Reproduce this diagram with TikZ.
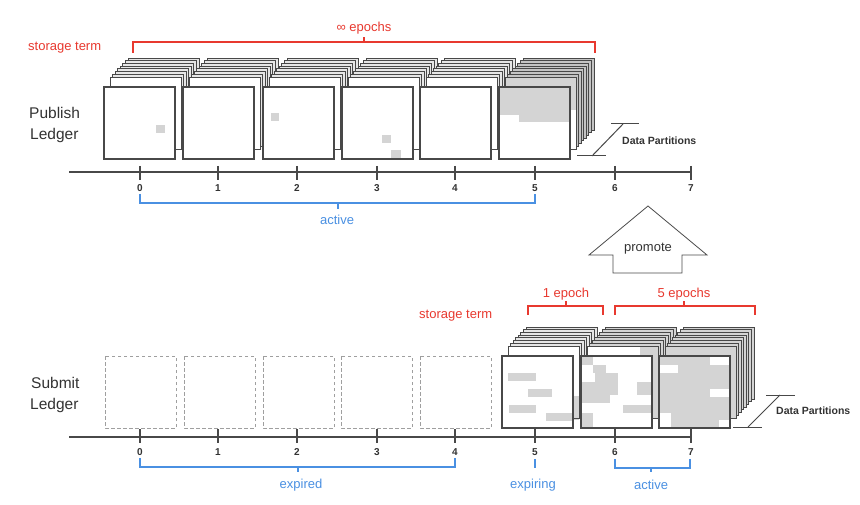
\documentclass[tikz,border=0pt]{standalone}
\usepackage{fontspec}
\setmainfont{Liberation Sans}
\definecolor{redc}{HTML}{E8392F}
\definecolor{bluec}{HTML}{4A90E2}
\definecolor{ink}{HTML}{333333}
\definecolor{edge}{HTML}{484848}
\definecolor{fillg}{HTML}{D4D4D4}
\definecolor{fillgd}{HTML}{C4C4C4}
\definecolor{fillgl}{HTML}{E6E6E6}
\tikzset{
  card/.style={draw=edge, line width=0.9pt},
  frontline/.style={draw=edge, line width=1.1pt},
  dbox/.style={draw=gray!75, dash pattern=on 3.5pt off 2.5pt, line width=0.8pt},
  axisline/.style={draw=edge, line width=1.1pt},
  redbr/.style={draw=redc, line width=1.1pt},
  bluebr/.style={draw=bluec, line width=1.1pt},
  redlbl/.style={text=redc, font=\fontsize{13}{15}\selectfont, inner sep=0pt},
  bluelbl/.style={text=bluec, font=\fontsize{13}{15}\selectfont, inner sep=0pt},
  ticklbl/.style={text=ink, font=\bfseries\fontsize{10}{12}\selectfont, inner sep=0pt},
  ledger/.style={text=ink, font=\fontsize{15.5}{22}\selectfont, align=left, anchor=west, inner sep=0pt},
  dplbl/.style={text=ink, font=\bfseries\fontsize{10.5}{12}\selectfont, anchor=west, inner sep=0pt},
  dpline/.style={draw=edge, line width=1pt},
}
% #1 left, #2 top, #3 fill of layers 2..8, #4 fill of layer 1
\newcommand\cardstack[4]{%
  \foreach \k in {8,7,...,1}{%
    \pgfmathsetmacro\dx{6+(\k-1)*18/7}%
    \pgfmathsetmacro\dy{10+(\k-1)*19/7}%
    \ifnum\k=1 \def\fc{#4}\else\def\fc{#3}\fi
    \filldraw[card, fill=\fc] ({#1+\dx},{#2-\dy}) rectangle ++(71,72);
  }%
}
\begin{document}
\begin{tikzpicture}[x=1pt,y=-1pt]
\useasboundingbox[fill=white] (0,0) rectangle (860,505);

% ---------------- Publish ledger ----------------
\node[ledger] (pubA) at (29,113) {Publish};
\node[ledger] (pubB) at (30,135) {Ledger};

% stacks 0..4 (plain)
\foreach \L in {104,183,263,342,420}{%
  \cardstack{\L}{87}{fillgl}{white}
  \filldraw[frontline, fill=white] (\L,87) rectangle ++(71,72);
}
% stack 5 (filled)
\cardstack{499}{87}{fillgd}{white}
\fill[fillg] (505,77) rectangle (576,110);
\draw[card] (505,77) rectangle ++(71,72);
\fill[white] (499,87) rectangle ++(71,72);
\fill[fillg] (499,87) rectangle (570,115);
\fill[fillg] (519,115) rectangle (570,122);
\draw[frontline] (499,87) rectangle ++(71,72);

% small grey squares
\fill[fillg] (156,125) rectangle (165,133);
\fill[fillg] (271,113) rectangle (279,121);
\fill[fillg] (382,135) rectangle (391,143);
\fill[fillg] (391,150) rectangle (401,158);

% red bracket top
\draw[redbr] (133,53) -- (133,42) -- (595,42) -- (595,53);
\draw[redbr] (364,42) -- (364,37);
\node[redlbl] (inf) at (364,28) {∞ epochs};
\node[redlbl, anchor=west] (st1) at (28,48) {storage term};

% data partitions top
\draw[dpline] (611,124) -- (639,124);
\draw[dpline] (577,156) -- (606,156);
\draw[dpline] (623,124) -- (592,156);
\node[dplbl] (dp1) at (622,141) {Data Partitions};

% axis top
\draw[axisline] (69,172) -- (692,172);
\foreach \x/\n in {140/0,218/1,297/2,377/3,455/4,535/5,615/6,691/7}{%
  \coordinate (ta\n) at (\x,172);
  \draw[axisline] (\x,166) -- (\x,180);
  \node[ticklbl] (tl\n) at (\x,188) {\n};
}
% active bracket top
\draw[bluebr] (140,194) -- (140,203) -- (535,203) -- (535,194);
\draw[bluebr] (338,203) -- (338,209);
\node[bluelbl] (act1) at (337,220) {active};

% ---------------- promote ----------------
\draw[draw=gray!60!black, line width=0.8pt]
  (648,206) -- (707,255) -- (682,255) -- (682,273) -- (613,273) -- (613,255) -- (589,255) -- cycle;
\node[text=ink, font=\fontsize{13}{15}\selectfont, inner sep=0pt] (prom) at (648,249) {promote};

% ---------------- Submit ledger ----------------
\node[ledger] (subA) at (31,383) {Submit};
\node[ledger] (subB) at (30,405) {Ledger};

\foreach \L in {105,184,263,341,420}{%
  \draw[dbox] (\L,356) rectangle ++(71,72);
}

% stack 5 (expiring)
\cardstack{502}{356}{fillgl}{white}
\fill[fillg] (562,396) rectangle (579,420);
\draw[card] (508,346) rectangle ++(71,72);
\fill[white] (502,356) rectangle ++(71,72);
\fill[fillg] (508,373) rectangle (536,381);
\fill[fillg] (528,389) rectangle (552,397);
\fill[fillg] (509,405) rectangle (536,413);
\fill[fillg] (546,413) rectangle (573,421);
\draw[frontline] (502,356) rectangle ++(71,72);

% stack 6
\cardstack{581}{356}{fillg}{fillg}
\fill[white] (587,346) rectangle (640,356);
\draw[card] (587,346) rectangle ++(71,72);
\fill[white] (581,356) rectangle ++(71,72);
\begin{scope}[shift={(581,356)}]
  \fill[fillg] (0,0) rectangle (12,9);
  \fill[fillg] (12,9) rectangle (25,17);
  \fill[fillg] (14,17) rectangle (37,39);
  \fill[fillg] (0,26) rectangle (29,47);
  \fill[fillg] (56,26) rectangle (71,39);
  \fill[fillg] (42,49) rectangle (71,57);
  \fill[fillg] (0,57) rectangle (12,72);
\end{scope}
\draw[frontline] (581,356) rectangle ++(71,72);

% stack 7
\cardstack{659}{356}{fillg}{fillg}
\fill[fillg] (659,356) rectangle ++(71,72);
\begin{scope}[shift={(659,356)}]
  \fill[white] (51,1) rectangle (70,9);
  \fill[white] (1,9) rectangle (19,17);
  \fill[white] (51,33) rectangle (70,41);
  \fill[white] (1,57) rectangle (12,71);
  \fill[white] (60,64) rectangle (70,71);
\end{scope}
\draw[frontline] (659,356) rectangle ++(71,72);

% red brackets bottom
\node[redlbl, anchor=west] (st2) at (419,316) {storage term};
\draw[redbr] (528,315) -- (528,306) -- (603,306) -- (603,315);
\draw[redbr] (566,306) -- (566,301);
\node[redlbl] (ep1) at (566,294) {1 epoch};
\draw[redbr] (615,315) -- (615,306) -- (755,306) -- (755,315);
\draw[redbr] (684,306) -- (684,301);
\node[redlbl] (ep5) at (684,294) {5 epochs};

% data partitions bottom
\draw[dpline] (766,395) -- (795,395);
\draw[dpline] (733,427) -- (762,427);
\draw[dpline] (780,395) -- (748,427);
\node[dplbl] (dp2) at (776,411) {Data Partitions};

% axis bottom
\draw[axisline] (69,437) -- (692,437);
\foreach \x/\n in {140/0,218/1,297/2,377/3,455/4,535/5,615/6,691/7}{%
  \coordinate (tb\n) at (\x,437);
  \draw[axisline] (\x,429) -- (\x,443);
  \node[ticklbl] (bl\n) at (\x,452) {\n};
}

% blue brackets bottom
\draw[bluebr] (140,458) -- (140,467) -- (455,467) -- (455,458);
\draw[bluebr] (298,467) -- (298,472);
\node[bluelbl] (exp) at (301,485) {expired};
\draw[bluebr] (535,459) -- (535,468);
\node[bluelbl] (expg) at (533,485) {expiring};
\draw[bluebr] (615,459) -- (615,468) -- (690,468) -- (690,459);
\draw[bluebr] (651,468) -- (651,472);
\node[bluelbl] (act2) at (651,485) {active};
\end{tikzpicture}
\end{document}
